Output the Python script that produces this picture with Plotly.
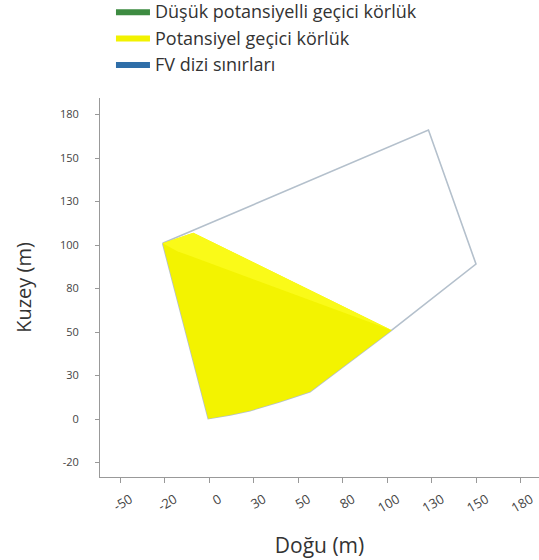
import plotly.graph_objects as go

# Tick positions (true metres) and the labels printed in the reference
x_tick_vals = [-50, -25, 0, 25, 50, 75, 100, 125, 150, 175]
x_tick_text = ["-50", "-20", "0", "30", "50", "80", "100", "130", "150", "180"]
y_tick_vals = [-25, 0, 25, 50, 75, 100, 125, 150, 175]
y_tick_text = ["-20", "0", "30", "50", "80", "100", "130", "150", "180"]

# FV array boundary (East, North in m)
boundary_x = [-26.2, 123.1, 149.8, 102.5, 56.6, 39.7, 22.9, 11.7, -0.6, -26.2]
boundary_y = [101.0, 166.1, 89.1, 51.1, 15.7, 9.9, 4.8, 2.3, 0.2, 101.0]

# Potential temporary glare area
glare_x = [-26.2, -9.0, 102.5, 56.6, 39.7, 22.9, 11.7, -0.6, -26.2]
glare_y = [101.0, 107.1, 51.1, 15.7, 9.9, 4.8, 2.3, 0.2, 101.0]

# brighter upper wedge of the glare area
glare_top_x = [-26.2, -9.0, 102.5, -18.0, -26.2]
glare_top_y = [101.0, 107.1, 51.1, 96.5, 101.0]

legend_names = ["Düşük potansiyelli geçici körlük", "Potansiyel geçici körlük", "FV dizi sınırları"]
legend_colors = ["#3d8b41", "#f2f200", "#2f6ea8"]

fig = go.Figure()

fig.add_trace(go.Scatter(x=boundary_x, y=boundary_y, mode="lines",
                         line=dict(color="#b4c0cc", width=1.6),
                         showlegend=False, hoverinfo="skip"))
fig.add_trace(go.Scatter(x=glare_x, y=glare_y, mode="lines", fill="toself",
                         fillcolor="#f3f300", line=dict(width=0, color="#f3f300"),
                         showlegend=False, hoverinfo="skip"))
fig.add_trace(go.Scatter(x=glare_top_x, y=glare_top_y, mode="lines", fill="toself",
                         fillcolor="#fafa18", line=dict(width=0, color="#fafa18"),
                         showlegend=False, hoverinfo="skip"))

for name, col in zip(legend_names, legend_colors):
    fig.add_trace(go.Scatter(x=[None], y=[None], mode="lines", fill="toself",
                             fillcolor=col, line=dict(width=0, color=col),
                             name=name))

fig.update_layout(
    width=539, height=560,
    margin=dict(l=100, r=0, t=98, b=83, autoexpand=False),
    paper_bgcolor="white", plot_bgcolor="white",
    font=dict(family="Open Sans, Lato, sans-serif", color="#333333"),
    legend=dict(x=0.025, y=1.277, xanchor="left", yanchor="top",
                font=dict(size=18, color="#333333"),
                bgcolor="rgba(0,0,0,0)", tracegroupgap=0, itemwidth=34),
    xaxis=dict(range=[-61.4, 185.2], tickvals=x_tick_vals, ticktext=x_tick_text,
               tickangle=-30, ticklabelshift=10, ticklabelstandoff=4,
               showgrid=False, zeroline=False, automargin=False,
               showline=True, linecolor="#999999", linewidth=1,
               ticks="outside", ticklen=5, tickcolor="#999999",
               tickfont=dict(size=13, color="#444444"),
               title=dict(text="Doğu (m)", font=dict(size=21, color="#333333"), standoff=22)),
    yaxis=dict(range=[-33.3, 184.5], tickvals=y_tick_vals, ticktext=y_tick_text,
               ticklabelstandoff=14,
               showgrid=False, zeroline=False, automargin=False,
               showline=True, linecolor="#999999", linewidth=1,
               ticks="outside", ticklen=4, tickcolor="#999999",
               tickfont=dict(size=11, color="#444444"),
               title=dict(text="Kuzey (m)", font=dict(size=20, color="#333333"), standoff=22)),
)

fig.write_html("out.html", config={"displayModeBar": False},
               post_script="document.body.style.margin='0';")
